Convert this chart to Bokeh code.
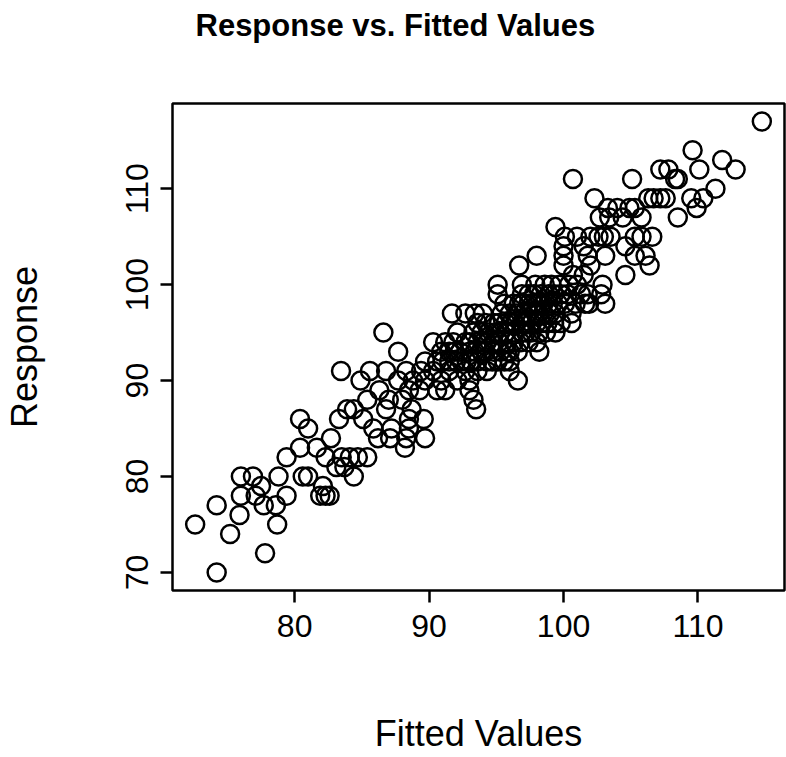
from bokeh.plotting import figure
from bokeh.models import Range1d, FixedTicker, Title
from bokeh.embed import file_html
from bokeh.resources import INLINE

# Observed response grouped by its (integer) value, with the fitted values
# of the observations that share it.
response_levels = [70, 72, 74, 75, 76, 77, 78, 79, 80, 81, 82, 83, 84, 85, 86, 87,
                   88, 89, 90, 91, 92, 93, 94, 95, 96, 97, 98, 99, 100, 101, 102,
                   103, 104, 105, 106, 107, 108, 109, 110, 111, 112, 113, 114, 117]

fitted_by_level = [
    [74.2],
    [77.8],
    [75.2],
    [72.6, 78.7],
    [75.9],
    [74.2, 77.7, 78.6],
    [76.0, 77.1, 79.4, 81.9, 82.3, 82.6],
    [77.5, 82.1],
    [76.0, 76.9, 78.8, 80.6, 81.0, 84.4],
    [83.1, 83.7],
    [79.4, 82.3, 83.5, 84.1, 84.7, 85.4],
    [80.4, 81.65, 88.2],
    [82.7, 86.2, 87.1, 88.3, 89.7],
    [81.0, 85.85, 87.2, 88.5],
    [80.4, 83.3, 85.1, 88.5, 89.6],
    [83.9, 84.4, 86.8, 88.7, 93.5],
    [85.4, 87.0, 88.0, 93.3],
    [86.3, 88.5, 89.3, 90.6, 91.2, 93.0],
    [84.9, 87.7, 88.8, 89.7, 90.9, 92.1, 93.0, 96.6],
    [83.45, 85.6, 86.8, 88.3, 89.4, 90.3, 91.5, 92.7, 93.6, 94.3, 96.0],
    [89.7, 90.6, 91.0, 91.5, 92.0, 92.4, 92.8, 93.1, 93.6, 94.3, 94.7, 95.1, 95.6, 96.0],
    [87.7, 90.9, 91.5, 91.9, 92.3, 93.0, 93.4, 93.9, 94.2, 94.8, 95.3, 95.8, 96.0, 96.6, 98.2],
    [90.3, 91.2, 91.8, 92.7, 93.0, 93.6, 94.0, 94.3, 94.8, 95.2, 95.8, 96.3, 96.8, 97.4, 98.0],
    [86.6, 92.1, 93.3, 93.9, 94.4, 94.9, 95.3, 95.7, 96.3, 96.9, 97.2, 97.6, 98.2, 98.7, 99.4],
    [93.6, 94.2, 94.8, 95.2, 95.7, 96.1, 96.4, 96.9, 97.2, 97.6, 98.0, 98.4, 98.8, 99.3, 99.8, 100.6],
    [91.7, 92.7, 93.4, 94.0, 95.4, 96.0, 96.5, 97.0, 97.4, 97.9, 98.1, 98.5, 99.0, 99.4, 100.6],
    [95.6, 96.3, 96.7, 97.0, 97.4, 97.7, 98.1, 98.5, 98.9, 99.2, 99.6, 100.1, 100.9, 101.6, 101.9, 103.1],
    [95.1, 96.9, 97.4, 97.8, 98.3, 98.9, 99.3, 99.8, 100.3, 101.3, 101.8, 102.8],
    [95.1, 96.9, 97.9, 98.6, 99.1, 99.7, 100.4, 101.0, 102.9],
    [100.7, 101.5, 104.6],
    [96.7, 100.0, 102.0, 106.4],
    [98.0, 100.0, 101.8, 103.1, 105.3, 106.1],
    [100.0, 101.5, 104.6],
    [100.1, 101.0, 102.0, 102.6, 103.0, 103.5, 105.3, 105.8, 106.6],
    [99.4],
    [102.7, 103.4, 104.4, 105.8, 108.5],
    [103.3, 104.0, 104.9, 105.3, 109.9],
    [102.3, 106.3, 106.7, 107.2, 107.6, 109.5, 110.4],
    [111.3],
    [100.7, 105.1, 108.3, 108.5],
    [107.2, 107.8, 110.1, 112.8],
    [111.8],
    [109.6],
    [114.75],
]

x_ticks = [80, 90, 100, 110]
y_ticks = [70, 80, 90, 100, 110]

fitted = []
response = []
for level, values in zip(response_levels, fitted_by_level):
    for v in values:
        fitted.append(v)
        response.append(level)

# R-style 4% padding around the data range
def padded(lo, hi):
    d = (hi - lo) * 0.04
    return lo - d, hi + d

x0, x1 = padded(min(fitted), max(fitted))
y0, y1 = padded(min(response), max(response))

FONT = "Liberation Sans"

p = figure(width=786, height=757, output_backend="svg", toolbar_location=None,
           x_range=Range1d(x0, x1), y_range=Range1d(y0, y1),
           min_border_left=172, min_border_right=2, min_border_top=103,
           min_border_bottom=167)

p.background_fill_color = "white"
p.border_fill_color = "white"
p.outline_line_color = "black"
p.outline_line_width = 2.5
p.xgrid.visible = False
p.ygrid.visible = False

p.scatter(fitted, response, marker="circle", size=18, fill_color=None,
          line_color="black", line_width=2.5)

for ax, ticks in ((p.xaxis[0], x_ticks), (p.yaxis[0], y_ticks)):
    ax.ticker = FixedTicker(ticks=ticks)
    ax.axis_line_color = None
    ax.major_tick_in = 0
    ax.major_tick_out = 12
    ax.major_tick_line_width = 2.5
    ax.major_tick_line_color = "black"
    ax.minor_tick_line_color = None
    ax.major_label_text_font = FONT
    ax.major_label_text_font_size = "32px"
    ax.major_label_text_color = "black"
    ax.axis_label_text_font = FONT
    ax.axis_label_text_font_size = "36px"
    ax.axis_label_text_font_style = "normal"
    ax.axis_label_text_color = "black"

p.xaxis.axis_label = "Fitted Values"
p.xaxis.major_label_standoff = 12
p.xaxis.axis_label_standoff = 73
p.yaxis.axis_label = "Response"
p.yaxis.major_label_orientation = "vertical"
p.yaxis.major_label_standoff = 12
p.yaxis.axis_label_standoff = 79

# blank spacer between the frame and the main title
p.add_layout(Title(text=" ", text_font=FONT, text_font_size="40px"), "above")
p.add_layout(Title(text="Response vs. Fitted Values", text_font=FONT,
                   text_font_size="31px", text_font_style="bold",
                   text_color="black", align="left", offset=23), "above")

open("out.html", "w").write(file_html(p, INLINE))
